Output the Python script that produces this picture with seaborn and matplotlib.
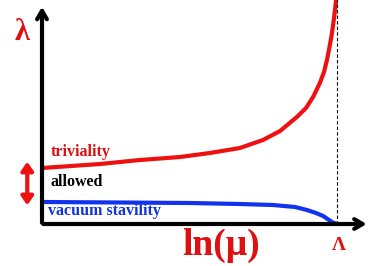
import numpy as np
import pandas as pd
import matplotlib
matplotlib.use("Agg")
import matplotlib.pyplot as plt
import seaborn as sns

# coupling lambda vs ln(mu), cutoff Lambda at x=1
triv_x = [0.0, 0.197, 0.332, 0.468, 0.569, 0.671, 0.749, 0.807, 0.864, 0.895,
          0.919, 0.942, 0.956, 0.966, 0.976, 0.983, 0.990, 0.997]
triv_y = [0.56, 0.60, 0.64, 0.67, 0.71, 0.76, 0.84, 0.93, 1.07, 1.16,
          1.27, 1.41, 1.52, 1.64, 1.79, 1.91, 2.06, 2.24]
vac_x = [0.0, 0.264, 0.502, 0.671, 0.783, 0.858, 0.898, 0.929, 0.953, 0.973, 0.986, 1.0]
vac_y = [0.22, 0.215, 0.21, 0.20, 0.19, 0.17, 0.14, 0.11, 0.08, 0.04, 0.015, 0.0]

triv = pd.DataFrame({"x": triv_x, "y": triv_y})
vac = pd.DataFrame({"x": vac_x, "y": vac_y})

sns.set_style("white")
plt.rcParams["font.family"] = ["Liberation Serif", "DejaVu Serif"]

fig = plt.figure(figsize=(3.71, 2.66), dpi=100)
ax = fig.add_axes([0, 0, 1, 1])
ax.set_xlim(-0.1424, 1.1153)
ax.set_ylim(-0.42, 2.24)
ax.axis("off")

sns.lineplot(data=triv, x="x", y="y", color="#ee1111", lw=3, ax=ax, sort=False)
sns.lineplot(data=vac, x="x", y="y", color="#1133ee", lw=3, ax=ax, sort=False)

# axes with arrows
ax.annotate("", xy=(1.11, 0), xytext=(-0.005, 0), annotation_clip=False,
            arrowprops=dict(arrowstyle="->,head_length=0.6,head_width=0.35", lw=3, color="black"))
ax.annotate("", xy=(0, 2.2), xytext=(0, -0.015), annotation_clip=False,
            arrowprops=dict(arrowstyle="->,head_length=0.6,head_width=0.35", lw=3, color="black"))
ax.plot([1.0, 1.0], [0, 2.24], ls=(0, (3, 2)), color="black", lw=0.8)

# allowed band arrow
ax.annotate("", xy=(-0.05, 0.65), xytext=(-0.05, 0.16),
            arrowprops=dict(arrowstyle="<|-|>,head_length=0.5,head_width=0.35", lw=3, color="#ee1111"))

ax.text(0.03, 0.72, "triviality", color="#dd1111", fontsize=11.5, fontweight="bold", va="center")
ax.text(0.03, 0.42, "allowed", color="black", fontsize=11.5, fontweight="bold", va="center")
ax.text(0.02, 0.13, "vacuum stavility", color="#1133dd", fontsize=11.5, fontweight="bold", va="center")

ax.text(-0.068, 1.91, "λ", color="#dd1111", fontsize=22, fontweight="bold", ha="center", va="center")
ax.text(0.607, -0.21, "ln(μ)", color="#dd1111", fontsize=27, fontweight="bold", ha="center", va="center")
ax.text(1.007, -0.21, "Λ", color="#dd1111", fontsize=14, fontweight="bold", ha="center", va="center")

fig.savefig("out.png", dpi=100)
